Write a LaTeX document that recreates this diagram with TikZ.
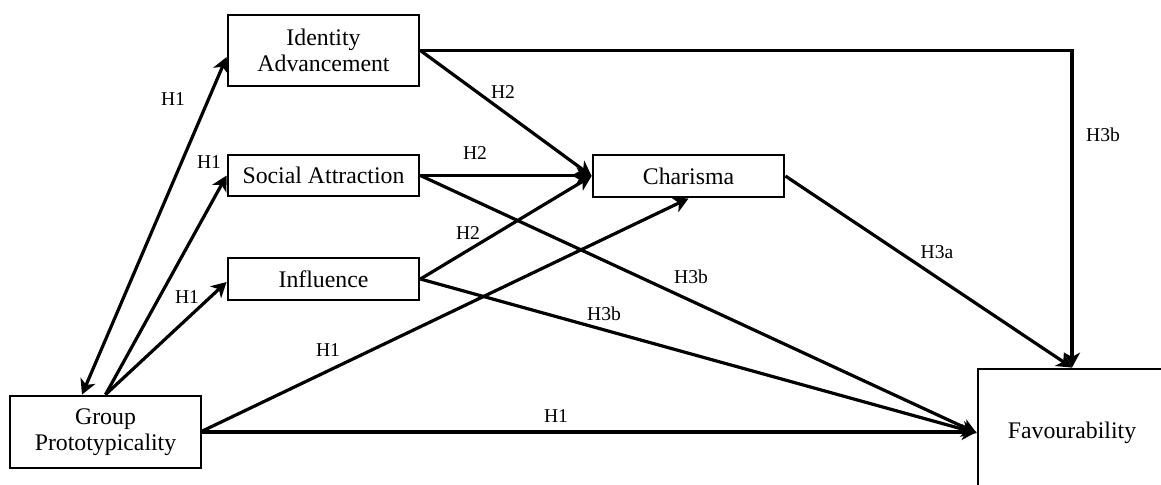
\documentclass[tikz,border=0pt]{standalone}
\usepackage{fontspec}
\setmainfont{Liberation Serif}
\usetikzlibrary{arrows.meta,calc}
\begin{document}
\begin{tikzpicture}[x=0.5pt,y=-0.5pt,
  >={Stealth[length=7.5pt,width=8pt,inset=2.2pt]},
  box/.style={draw,line width=1.4pt,minimum width=95.5pt,inner sep=0pt,align=center,font=\fontsize{11.9}{13}\selectfont},
  lbl/.style={inner sep=0pt,font=\fontsize{9.8}{11}\selectfont},
  arr/.style={line width=1.6pt,->},
]
\clip (0,0) rectangle (1161,484);
% boxes
\node[box,minimum height=35.5pt] (ia) at (323.5,50.5) {Identity\\Advancement};
\node[box,minimum height=20.5pt] (sa) at (323.5,175.5) {Social Attraction};
\node[box,minimum height=21pt] (inf) at (323.5,279) {Influence};
\node[box,minimum height=36pt] (gp) at (105.5,432) {Group\\Prototypicality};
\node[box,minimum height=21pt] (ch) at (688.5,176) {Charisma};
\node[box,minimum width=94pt,minimum height=64pt] (fav) at (1072,433) {Favourability};
% connectors
\draw[line width=1.6pt,<->] ($(gp.north)+(-23.5,0)$) -- ($(ia.west)+(0,6.5)$);
\draw[arr] (gp.north) -- (sa.west);
\draw[arr] (gp.north) -- ($(inf.west)+(0,3)$);
\draw[arr] ($(gp.east)+(0,-1)$) -- (ch.south);
\draw[arr] (gp.east) -- (gp.east -| fav.west);
\draw[arr] (ia.east) -- (ch.west);
\draw[arr] (ia.east) -| (fav.north);
\draw[arr] (sa.east) -- (sa.east -| ch.west);
\draw[arr] (sa.east) -- (fav.west);
\draw[arr] (inf.east) -- (ch.west);
\draw[arr] (inf.east) -- (fav.west);
\draw[arr] (ch.east) -- (fav.north);
% labels
\node[lbl] (l1) at (173,99) {H1};
\node[lbl] (l2) at (209,162) {H1};
\node[lbl] (l3) at (187,297) {H1};
\node[lbl] (l4) at (328,350) {H1};
\node[lbl] (l5) at (556,416) {H1};
\node[lbl] (l6) at (503,92) {H2};
\node[lbl] (l7) at (475,153) {H2};
\node[lbl] (l8) at (468,233) {H2};
\node[lbl] (l9) at (691,277) {H3b};
\node[lbl] (l10) at (604,314) {H3b};
\node[lbl] (l11) at (937,252) {H3a};
\node[lbl] (l12) at (1103,135) {H3b};
\end{tikzpicture}
\end{document}
